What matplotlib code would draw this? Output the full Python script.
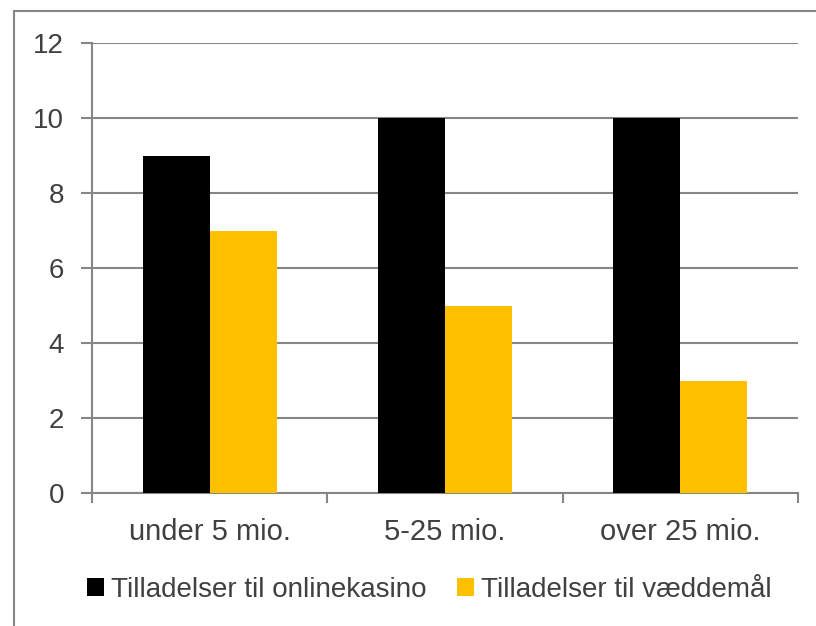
import matplotlib.pyplot as plt
import numpy as np
from matplotlib.patches import Rectangle

# data
categories = ['under 5 mio.', '5-25 mio.', 'over 25 mio.']
onlinekasino = [9, 10, 10]
vaeddemaal = [7, 5, 3]
series_names = ['Tilladelser til onlinekasino', 'Tilladelser til væddemål']

plt.rcParams['font.family'] = ['Liberation Sans', 'DejaVu Sans']
text_col = '#404040'
grid_col = '#868686'

fig = plt.figure(figsize=(8.16, 6.26), dpi=100)
ax = fig.add_axes([92 / 816, 1 - 493 / 626, (798 - 92) / 816, (493 - 43) / 626])

x = np.arange(len(categories))
w = 0.285
ax.bar(x - w / 2, onlinekasino, width=w, color='#000000', label=series_names[0], zorder=3)
ax.bar(x + w / 2, vaeddemaal, width=w, color='#FFC000', label=series_names[1], zorder=3)

ax.set_xlim(-0.5, len(categories) - 0.5)
ax.set_ylim(0, 12)
ax.set_yticks(range(0, 13, 2))
ax.yaxis.grid(True, color=grid_col, linewidth=1.5, zorder=0)
ax.set_axisbelow(True)

for s in ['top', 'right']:
    ax.spines[s].set_visible(False)
for s in ['left', 'bottom']:
    ax.spines[s].set_color(grid_col)
    ax.spines[s].set_linewidth(1.5)

# category ticks sit on group boundaries, labels in the middle
ax.set_xticks(np.arange(-0.5, len(categories), 1))
ax.set_xticklabels([])
ax.set_xticks(x, minor=True)
ax.set_xticklabels(categories, minor=True)
ax.tick_params(axis='x', which='major', length=7, width=1.5, color=grid_col, direction='out')
ax.tick_params(axis='x', which='minor', length=0, pad=18, labelsize=21, labelcolor=text_col)
ax.tick_params(axis='y', length=8, width=1.5, color=grid_col, direction='out', pad=12,
               labelsize=20, labelcolor=text_col)

leg = fig.legend(loc='center', bbox_to_anchor=(0.526, 1 - 590 / 626), ncol=2, frameon=False,
                 fontsize=20, handlelength=0.6, handleheight=0.6, handletextpad=0.25,
                 columnspacing=1.1, labelcolor=text_col)

# outer chart border
fig.patches.append(Rectangle((14 / 816, -0.05), 1.0, 1 - 11 / 626 + 0.05, transform=fig.transFigure,
                             fill=False, edgecolor=grid_col, linewidth=1.5))

fig.savefig('out.png', dpi=100)
